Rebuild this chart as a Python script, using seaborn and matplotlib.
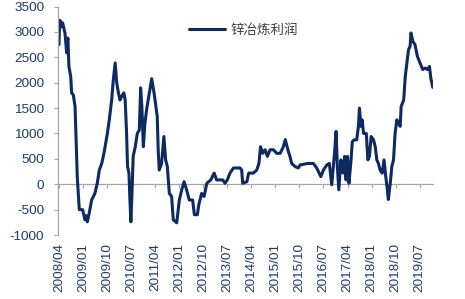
import matplotlib
matplotlib.use("Agg")
import matplotlib.pyplot as plt
import matplotlib.dates as mdates
import seaborn as sns
import pandas as pd

# ---- data ----
dates = [
    "2008-04-01", "2008-04-05", "2008-04-12", "2008-04-25", "2008-05-12", "2008-06-08",
    "2008-06-27", "2008-07-11", "2008-07-23", "2008-08-12", "2008-08-23", "2008-09-11",
    "2008-10-01", "2008-10-11", "2008-10-26", "2008-11-18", "2008-12-26", "2009-01-22",
    "2009-02-05", "2009-02-18", "2009-03-11", "2009-04-08", "2009-05-15", "2009-06-11",
    "2009-07-04", "2009-08-01", "2009-08-26", "2009-10-04", "2009-10-26", "2009-11-22",
    "2009-12-11", "2010-01-01", "2010-01-19", "2010-02-07", "2010-02-25", "2010-03-16",
    "2010-04-10", "2010-04-25", "2010-05-11", "2010-05-22", "2010-06-07", "2010-06-18",
    "2010-06-29", "2010-07-14", "2010-07-25", "2010-08-18", "2010-09-10", "2010-10-03",
    "2010-10-18", "2010-11-01", "2010-11-18", "2010-12-06", "2010-12-25", "2011-01-25",
    "2011-02-21", "2011-03-20", "2011-04-25", "2011-05-06", "2011-05-18", "2011-06-14",
    "2011-07-10", "2011-07-30", "2011-08-18", "2011-09-10", "2011-10-06", "2011-10-25",
    "2011-12-03", "2012-01-02", "2012-01-29", "2012-02-25", "2012-03-25", "2012-04-24",
    "2012-06-02", "2012-06-21", "2012-07-25", "2012-08-10", "2012-09-12", "2012-10-10",
    "2012-11-10", "2012-12-25", "2013-02-02", "2013-03-02", "2013-05-10", "2013-06-06",
    "2013-07-01", "2013-08-01", "2013-09-09", "2013-11-24", "2013-12-12", "2013-12-24",
    "2014-02-09", "2014-03-02", "2014-04-24", "2014-06-02", "2014-06-27", "2014-07-15",
    "2014-08-09", "2014-09-05", "2014-10-01", "2014-11-01", "2014-12-09", "2015-01-15",
    "2015-02-24", "2015-04-01", "2015-04-23", "2015-05-27", "2015-06-15", "2015-07-05",
    "2015-07-23", "2015-08-12", "2015-09-18", "2015-10-08", "2016-01-03", "2016-03-08",
    "2016-04-15", "2016-06-01", "2016-07-01", "2016-08-08", "2016-09-06", "2016-10-03",
    "2016-11-01", "2016-11-22", "2016-12-06", "2016-12-23", "2017-01-15", "2017-02-08",
    "2017-02-27", "2017-03-15", "2017-04-01", "2017-04-18", "2017-05-08", "2017-05-26",
    "2017-06-15", "2017-07-15", "2017-08-03", "2017-08-15", "2017-09-01", "2017-09-15",
    "2017-10-01", "2017-11-01", "2017-11-19", "2017-12-07", "2017-12-26", "2018-01-22",
    "2018-02-11", "2018-03-01", "2018-03-19", "2018-04-07", "2018-05-01", "2018-05-22",
    "2018-06-11", "2018-06-29", "2018-07-10", "2018-08-01", "2018-08-19", "2018-09-07",
    "2018-09-25", "2018-10-15", "2018-11-03", "2018-11-22", "2018-12-03", "2019-01-01",
    "2019-01-19", "2019-02-07", "2019-02-25", "2019-03-15", "2019-03-25", "2019-04-15",
    "2019-05-10", "2019-06-06", "2019-07-06", "2019-08-06", "2019-09-03", "2019-09-28",
    "2019-10-22", "2019-11-06", "2019-11-28",
]
profit = [
    2750, 3000, 3230, 3100, 3180, 2980,
    2590, 2880, 2320, 2125, 1800, 1760,
    1530, 1000, 150, -500, -500, -700,
    -620, -740, -570, -310, -180, 20,
    280, 410, 610, 1000, 1270, 1660,
    2060, 2390, 1990, 1800, 1660, 1730,
    1800, 1660, 1000, 350, 220, -310,
    -740, -50, 550, 740, 1000, 1070,
    1900, 1530, 740, 1200, 1470, 1800,
    2080, 1800, 1340, 680, 280, 410,
    940, 480, 350, -180, -240, -700,
    -760, -310, -110, 50, -110, -310,
    -310, -600, -600, -410, -180, -240,
    20, 85, 220, 85, 85, 20,
    85, 220, 320, 320, 280, 20,
    50, 220, 220, 280, 410, 740,
    610, 680, 550, 680, 680, 610,
    610, 740, 880, 650, 550, 410,
    380, 350, 320, 380, 410, 410,
    320, 150, 280, 380, 410, -10,
    550, 1040, 350, -110, 480, 220,
    550, 85, 550, 20, 410, 840,
    875, 875, 1140, 1500, 1140, 1270,
    1000, 1000, 480, 550, 940, 875,
    740, 480, 410, 280, 220, 480,
    150, -110, -300, 20, 350, 480,
    1000, 1270, 1200, 1140, 1530, 1660,
    2125, 2390, 2650, 2720, 2980, 2815,
    2750, 2520, 2390, 2260, 2290, 2260,
    2320, 2090, 1910,
]
series_name = "锌冶炼利润"
tick_labels = ["2008/04", "2009/01", "2009/10", "2010/07", "2011/04", "2012/01",
               "2012/10", "2013/07", "2014/04", "2015/01", "2015/10", "2016/07",
               "2017/04", "2018/01", "2018/10", "2019/07"]
y_ticks = [-1000, -500, 0, 500, 1000, 1500, 2000, 2500, 3000, 3500]

# ---- styling ----
sns.set_theme(style="white")
plt.rcParams["font.family"] = ["Liberation Sans", "Noto Sans CJK SC", "DejaVu Sans"]

LINE = "#0D2A63"
TXT = "#1F3A6E"
AXC = "#A6A6A6"

df = pd.DataFrame({"date": pd.to_datetime(dates), "value": profit})

fig = plt.figure(figsize=(4.65, 2.99), dpi=100)
ax = fig.add_axes([0.125, 0.214, 0.806, 0.764])

sns.lineplot(data=df, x="date", y="value", ax=ax, color=LINE, linewidth=2.2,
             label=series_name)

ymin, ymax = -1000, 3500
ax.set_ylim(ymin, ymax)
ax.set_xlim(pd.Timestamp("2008-03-22"), pd.Timestamp("2019-11-30"))
ax.set_yticks(y_ticks)
ax.set_yticklabels([str(v) for v in y_ticks])

tick_dates = pd.to_datetime([t.replace("/", "-") + "-01" for t in tick_labels])
ax.set_xticks(tick_dates)
ax.set_xticklabels(tick_labels, rotation=90)
ax.tick_params(axis="x", length=0, pad=6, labelsize=9.7, labelcolor=TXT)
ax.tick_params(axis="y", direction="out", length=3, width=0.8, color=AXC,
               pad=7, labelsize=9.7, labelcolor=TXT, left=True)
ax.set_xlabel("")
ax.set_ylabel("")

for s in ["top", "right", "bottom"]:
    ax.spines[s].set_visible(False)
ax.spines["left"].set_color(AXC)
ax.spines["left"].set_linewidth(0.9)

# zero-line axis with small tick marks (category axis crossing at 0)
zero_pos = (0 - ymin) / (ymax - ymin)
sec = ax.secondary_xaxis(zero_pos)
sec.set_xticks(mdates.date2num(tick_dates))
sec.set_xticklabels([""] * len(tick_dates))
sec.tick_params(axis="x", direction="out", length=3, width=0.8, color=AXC)
sec.spines["bottom"].set_color(AXC)
sec.spines["bottom"].set_linewidth(0.9)
sec.spines["top"].set_visible(False)

leg = ax.legend(loc="center", bbox_to_anchor=(0.495, 0.895), frameon=False,
                fontsize=9.7, handlelength=2.7, handletextpad=0.4)
for t in leg.get_texts():
    t.set_color("#404040")

ax.grid(False)
fig.savefig("out.png", dpi=100, facecolor="white")
